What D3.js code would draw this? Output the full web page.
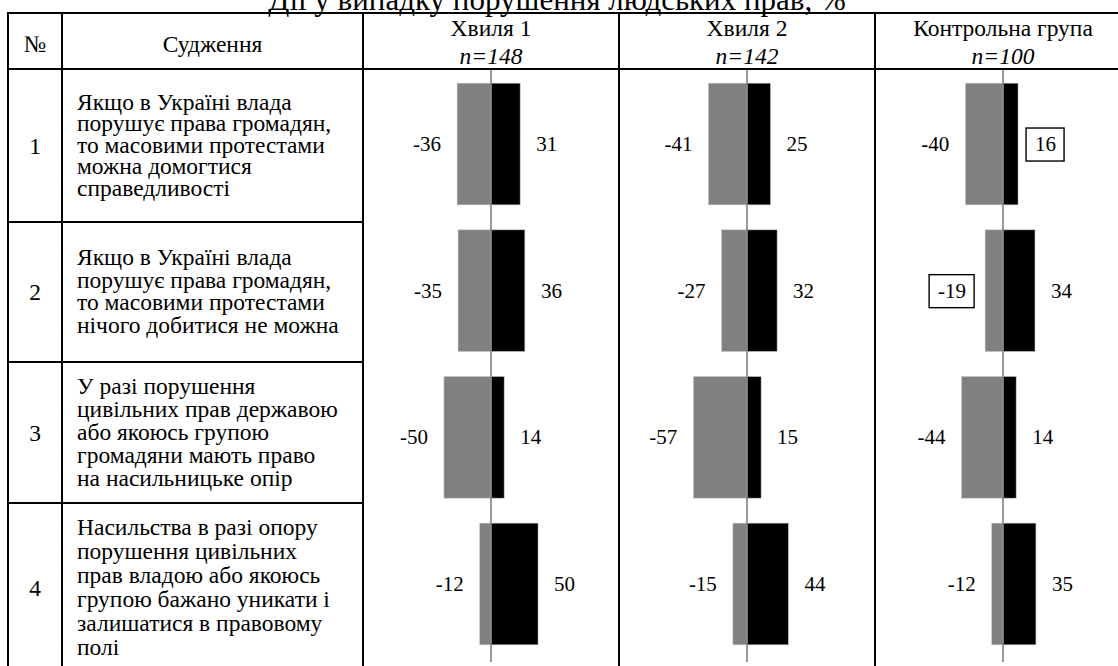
<!DOCTYPE html>
<html><head><meta charset="utf-8">
<script src="https://cdn.jsdelivr.net/npm/d3@7"></script>
<style>
html,body{margin:0;padding:0;background:#fff;}
svg{display:block;}
svg text{font-family:"Liberation Serif","Times New Roman","DejaVu Serif",serif;}
</style></head>
<body>
<svg id="chart" width="1118" height="666"></svg>
<script>
const title = "Дії у випадку порушення людських прав, %";
const rowNumbers = ["1","2","3","4"];
const statements = [
  ["Якщо в Україні влада","порушує права громадян,","то масовими протестами","можна домогтися","справедливості"],
  ["Якщо в Україні влада","порушує права громадян,","то масовими протестами","нічого добитися не можна"],
  ["У разі порушення","цивільних прав державою","або якоюсь групою","громадяни мають право","на насильницьке опір"],
  ["Насильства в разі опору","порушення цивільних","прав владою або якоюсь","групою бажано уникати і","залишатися в правовому","полі"]
];
const groups = ["Хвиля 1","Хвиля 2","Контрольна група"];
const groupN = ["n=148","n=142","n=100"];
const disagreeW1 = [-36,-35,-50,-12];
const agreeW1    = [31,36,14,50];
const disagreeW2 = [-41,-27,-57,-15];
const agreeW2    = [25,32,15,44];
const disagreeCtrl = [-40,-19,-44,-12];
const agreeCtrl    = [16,34,14,35];
const highlighted = [{group:2,row:0,side:"agree"},{group:2,row:1,side:"disagree"}];

const disagreeAll = [disagreeW1, disagreeW2, disagreeCtrl];
const agreeAll = [agreeW1, agreeW2, agreeCtrl];

const svg = d3.select("#chart");
const FS = 23.5;   // table text
const LFS = 21;    // bar labels

// table geometry
const tLeft = 8, cNum = 62, cStmt = 363, tRight = 1131;
const tTop = 13, hBottom = 69;
const rowEdges = [69, 222, 362, 503, 672];
const rowLH = [21.5, 22.5, 23, 24];

const xg = d3.scaleBand().domain(d3.range(groups.length)).range([cStmt, tRight]).padding(0);
const xv = d3.scaleLinear().domain([-136, 136]).range([0, xg.bandwidth()]);
const yb = d3.scaleBand().domain(d3.range(rowNumbers.length)).range([70.7, 657.3]).paddingInner(0.17).paddingOuter(0.085);

// title
svg.append("text").attr("x", 557).attr("y", 10).attr("text-anchor","middle")
  .attr("font-size", 31).text(title);

// table lines
const lines = svg.append("g").attr("stroke","#000").attr("stroke-width",2);
lines.append("line").attr("x1",tLeft-1).attr("x2",tRight).attr("y1",tTop).attr("y2",tTop);
lines.append("line").attr("x1",tLeft-1).attr("x2",tRight).attr("y1",hBottom).attr("y2",hBottom);
rowEdges.slice(1).forEach(y=>{
  lines.append("line").attr("x1",tLeft-1).attr("x2",cStmt+1).attr("y1",y).attr("y2",y);
});
[tLeft, cNum, cStmt].concat(groups.map((g,i)=>xg(i)+xg.bandwidth())).forEach(x=>{
  lines.append("line").attr("x1",x).attr("x2",x).attr("y1",tTop).attr("y2",672);
});

// header
const hdr = svg.append("g").attr("font-size",FS);
hdr.append("text").attr("x",(tLeft+cNum)/2).attr("y",52).attr("text-anchor","middle").text("№");
hdr.append("text").attr("x",(cNum+cStmt)/2).attr("y",52).attr("text-anchor","middle").text("Судження");
groups.forEach((g,i)=>{
  const cx = xg(i)+xg.bandwidth()/2;
  hdr.append("text").attr("x",cx).attr("y",36).attr("text-anchor","middle").text(g);
  hdr.append("text").attr("x",cx).attr("y",64).attr("text-anchor","middle").attr("font-style","italic").text(groupN[i]);
});

// rows text
rowNumbers.forEach((n,r)=>{
  const yc = (rowEdges[r]+rowEdges[r+1])/2;
  svg.append("text").attr("x",(tLeft+cNum)/2).attr("y",yc+8).attr("text-anchor","middle").attr("font-size",FS).text(n);
  const ls = statements[r];
  const LH = rowLH[r];
  const y0 = yc - (ls.length-1)*LH/2 + 7;
  const t = svg.append("text").attr("font-size",FS);
  ls.forEach((s,k)=>{
    t.append("tspan").attr("x",77).attr("y",y0+k*LH).text(s);
  });
});

// bars
groups.forEach((g,gi)=>{
  const gg = svg.append("g").attr("transform",`translate(${xg(gi)},0)`);
  const rows = d3.range(rowNumbers.length);
  gg.selectAll("rect.dis").data(rows).join("rect").attr("class","dis")
    .attr("x", r=>xv(disagreeAll[gi][r])).attr("width", r=>xv(0)-xv(disagreeAll[gi][r]))
    .attr("y", r=>yb(r)).attr("height", yb.bandwidth())
    .attr("fill","#808080").attr("stroke","#c8c8c8").attr("stroke-width",0.6);
  gg.selectAll("rect.agr").data(rows).join("rect").attr("class","agr")
    .attr("x", xv(0)).attr("width", r=>xv(agreeAll[gi][r])-xv(0))
    .attr("y", r=>yb(r)).attr("height", yb.bandwidth())
    .attr("fill","#000").attr("stroke","#c8c8c8").attr("stroke-width",0.6);
  gg.append("line").attr("x1",xv(0)).attr("x2",xv(0)).attr("y1",70).attr("y2",662)
    .attr("stroke","#808080").attr("stroke-width",1.6);
  rows.forEach(r=>{
    const yc = yb(r)+yb.bandwidth()/2 + 7;
    const dv = disagreeAll[gi][r], av = agreeAll[gi][r];
    const tl = gg.append("text").attr("x", xv(dv)-16).attr("y", yc).attr("text-anchor","end").attr("font-size",LFS).text(dv);
    const tr = gg.append("text").attr("x", xv(av)+16).attr("y", yc).attr("text-anchor","start").attr("font-size",LFS).text(av);
    highlighted.filter(h=>h.group===gi && h.row===r).forEach(h=>{
      if (h.side==="agree") tr.attr("x", xv(av)+17);
      else tl.attr("x", xv(dv)-19);
      const node = (h.side==="agree"?tr:tl);
      const bb = node.node().getBBox();
      gg.append("rect").attr("x",bb.x-9).attr("y",yb(r)+yb.bandwidth()/2-16).attr("width",bb.width+17).attr("height",33)
        .attr("fill","none").attr("stroke","#000").attr("stroke-width",1.4);
    });
  });
});
</script>
</body></html>
